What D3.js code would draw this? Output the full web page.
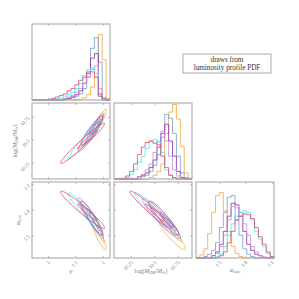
<!DOCTYPE html>
<html lang="en">
<head>
<meta charset="UTF-8" />
<title>corner</title>
<script src="https://cdn.jsdelivr.net/npm/d3@7"></script>
<style>
  body { margin: 0; background: #fff; }
  text { font-family: "Liberation Serif", "DejaVu Serif", serif; }
</style>
</head>
<body>
<div id="chart"></div>
<script>
// series colours (one per draw)
var colors = ['#f9a53a', '#6f9fd3', '#8e2c9c', '#c98ed6', '#3ff0f2', '#e3466c'];

// parameter names, ranges and ticks
var gammaDomain = [0.71, 2.13];
var logMDomain = [10.07, 10.9];
var alphaDomain = [1.233, 2.126];
var gammaTicks = [1, 1.5, 2];
var logMTicks = [10.25, 10.5, 10.75];
var alphaTicks = [1.5, 1.8, 2.1];
var gammaTickLabels = ['1', '1.5', '2'];
var logMTickLabels = ['10.25', '10.5', '10.75'];
var alphaTickLabels = ['1.5', '1.8', '2.1'];

// histogram heights (20 bins, fraction of panel height)
var histGamma = [
  [0,0,0,0,0,0,0,0,0,0,0,0,0.01,0.03,0.07,0.17,0.3,0.86,0.53,0.02],
  [0,0,0,0,0,0,0,0,0.01,0.02,0.03,0.05,0.08,0.15,0.3,0.68,0.82,0.5,0.03,0],
  [0,0,0,0,0,0,0,0,0.01,0.02,0.04,0.07,0.12,0.22,0.35,0.55,0.61,0.08,0,0],
  [0,0,0,0,0,0,0,0.01,0.02,0.04,0.06,0.1,0.15,0.22,0.3,0.4,0.45,0.15,0.02,0],
  [0,0,0,0,0,0.01,0.02,0.03,0.05,0.07,0.1,0.15,0.22,0.32,0.4,0.42,0.35,0.05,0,0],
  [0,0,0,0,0.01,0.02,0.04,0.06,0.08,0.12,0.15,0.2,0.26,0.3,0.37,0.37,0.3,0.05,0.01,0]
];
var histLogM = [
  [0,0,0,0,0,0,0,0,0,0.02,0.05,0.1,0.2,0.6,0.88,0.98,0.79,0.43,0.08,0.01],
  [0,0,0,0,0,0,0,0.03,0.05,0.1,0.18,0.32,0.55,0.85,0.8,0.6,0.3,0.08,0.02,0],
  [0,0,0,0,0,0,0.03,0.05,0.08,0.15,0.25,0.42,0.6,0.72,0.5,0.3,0.1,0.02,0,0],
  [0,0,0,0,0,0,0.03,0.06,0.12,0.2,0.35,0.5,0.63,0.5,0.3,0.12,0.04,0.01,0,0],
  [0,0,0,0.02,0.06,0.12,0.22,0.3,0.4,0.5,0.52,0.48,0.35,0.12,0.05,0.01,0,0,0,0],
  [0,0,0.01,0.04,0.1,0.2,0.32,0.42,0.48,0.5,0.47,0.45,0.3,0.15,0.05,0.02,0,0,0,0]
];
var histAlpha = [
  [0.01,0.04,0.12,0.32,0.6,0.82,0.86,0.62,0.35,0.15,0.06,0.02,0,0,0,0,0,0,0,0],
  [0,0,0.02,0.05,0.1,0.2,0.4,0.6,0.8,0.82,0.5,0.3,0.12,0.05,0.02,0,0,0,0,0],
  [0,0,0,0,0.03,0.08,0.18,0.35,0.55,0.72,0.7,0.55,0.35,0.18,0.1,0.05,0.03,0.01,0,0],
  [0,0,0,0,0,0.06,0.15,0.3,0.5,0.68,0.66,0.6,0.45,0.3,0.15,0.08,0.03,0.01,0,0],
  [0,0,0,0,0,0.02,0.05,0.15,0.3,0.45,0.55,0.6,0.62,0.6,0.5,0.35,0.25,0.15,0.06,0.02],
  [0,0,0,0,0,0,0.03,0.08,0.2,0.35,0.5,0.55,0.58,0.57,0.52,0.4,0.28,0.18,0.08,0.02]
];

// contour parameters: inner-contour centre, outer-contour centre, spread
var gammaPeak = [1.96, 1.89, 1.85, 1.82, 1.76, 1.72];
var gammaMid  = [1.93, 1.85, 1.80, 1.77, 1.67, 1.63];
var gammaSd   = [0.065, 0.08, 0.10, 0.11, 0.15, 0.20];
var logMPeak  = [10.73, 10.66, 10.63, 10.58, 10.52, 10.50];
var logMMid   = [10.69, 10.62, 10.60, 10.55, 10.49, 10.46];
var logMSd    = [0.07, 0.08, 0.08, 0.09, 0.10, 0.11];
var alphaPeak = [1.50, 1.63, 1.68, 1.70, 1.76, 1.77];
var alphaMid  = [1.50, 1.64, 1.70, 1.72, 1.78, 1.80];
var alphaSd   = [0.085, 0.09, 0.10, 0.11, 0.11, 0.11];
var corrGammaLogM  = [0.9, 0.92, 0.94, 0.94, 0.97, 0.975];
var corrGammaAlpha = [-0.9, -0.92, -0.93, -0.93, -0.96, -0.965];
var corrLogMAlpha  = [-0.92, -0.93, -0.94, -0.94, -0.96, -0.97];

var legendLines = ['draws from', 'luminosity profile PDF'];

var params = [
  { domain: gammaDomain, ticks: gammaTicks, tickLabels: gammaTickLabels, hist: histGamma, peak: gammaPeak, mid: gammaMid, sd: gammaSd },
  { domain: logMDomain, ticks: logMTicks, tickLabels: logMTickLabels, hist: histLogM, peak: logMPeak, mid: logMMid, sd: logMSd },
  { domain: alphaDomain, ticks: alphaTicks, tickLabels: alphaTickLabels, hist: histAlpha, peak: alphaPeak, mid: alphaMid, sd: alphaSd }
];
var corr = { '1,0': corrGammaLogM, '2,0': corrGammaAlpha, '2,1': corrLogMAlpha };

var width = 299, height = 299;
var colX = [32, 114, 196], rowY = [24, 103, 182];
var pw = 78, ph = 76;
var frameColor = '#aaaaaa', textColor = '#777777';

var svg = d3.select('#chart').append('svg')
  .attr('width', width).attr('height', height);

function xScale(j) { return d3.scaleLinear().domain(params[j].domain).range([colX[j], colX[j] + pw]); }
function yScale(i) { return d3.scaleLinear().domain(params[i].domain).range([rowY[i] + ph, rowY[i]]); }

function styleAxis(g) {
  g.select('.domain').remove();
  g.selectAll('line').attr('stroke', frameColor).attr('stroke-width', 0.8);
  g.selectAll('text').attr('fill', textColor).attr('font-size', 5);
}

var stepLine = d3.line();
var loopLine = d3.line().curve(d3.curveLinearClosed);

for (var i = 0; i < 3; i++) {
  for (var j = 0; j <= i; j++) {
    var x = xScale(j);
    var g = svg.append('g');

    if (i === j) {
      // histogram panel
      var y = d3.scaleLinear().domain([0, 1]).range([rowY[i] + ph, rowY[i]]);
      var dom = params[i].domain;
      var edges = d3.range(21).map(function (k) { return dom[0] + k * (dom[1] - dom[0]) / 20; });
      params[i].hist.forEach(function (h, s) {
        var pts = [[x(edges[0]), y(0)]];
        h.forEach(function (v, k) {
          pts.push([x(edges[k]), y(v)]);
          pts.push([x(edges[k + 1]), y(v)]);
        });
        pts.push([x(edges[20]), y(0)]);
        g.append('path').attr('d', stepLine(pts))
          .attr('fill', 'none').attr('stroke', colors[s])
          .attr('stroke-width', 0.9).attr('stroke-opacity', 0.9);
      });
      g.append('g').attr('transform', 'translate(0,' + rowY[i] + ')')
        .call(d3.axisTop(x).tickValues(params[j].ticks).tickSize(-2).tickFormat(''))
        .call(styleAxis);
    } else {
      var y2 = yScale(i);
      var rho = corr[i + ',' + j];
      colors.forEach(function (c, s) {
        [[params[j].mid[s], params[i].mid[s], 2], [params[j].peak[s], params[i].peak[s], 0.9]].forEach(function (lv) {
          var sx = params[j].sd[s], sy = params[i].sd[s], r = rho[s], k = lv[2];
          var pts = d3.range(90).map(function (t) {
            var a = t / 90 * 2 * Math.PI;
            return [x(lv[0] + k * sx * Math.cos(a)),
                    y2(lv[1] + k * sy * (r * Math.cos(a) + Math.sqrt(1 - r * r) * Math.sin(a)))];
          });
          g.append('path').attr('d', loopLine(pts))
            .attr('fill', 'none').attr('stroke', c)
            .attr('stroke-width', 0.9).attr('stroke-opacity', 0.9);
        });
      });
      g.append('g').attr('transform', 'translate(0,' + rowY[i] + ')')
        .call(d3.axisTop(x).tickValues(params[j].ticks).tickSize(-2).tickFormat(''))
        .call(styleAxis);
      g.append('g').attr('transform', 'translate(' + (colX[j] + pw) + ',0)')
        .call(d3.axisRight(y2).tickValues(params[i].ticks).tickSize(-2).tickFormat(''))
        .call(styleAxis);
      var left = g.append('g').attr('transform', 'translate(' + colX[j] + ',0)')
        .call(d3.axisLeft(y2).tickValues(params[i].ticks).tickSize(-2).tickPadding(3)
          .tickFormat(function (d, k) { return j === 0 ? params[i].tickLabels[k] : ''; }))
        .call(styleAxis);
      left.selectAll('text').attr('text-anchor', 'end')
        .attr('transform', function () { return 'rotate(-45,' + d3.select(this).attr('x') + ',0)'; });
    }

    var bottom = g.append('g').attr('transform', 'translate(0,' + (rowY[i] + ph) + ')')
      .call(d3.axisBottom(x).tickValues(params[j].ticks).tickSize(-2).tickPadding(3)
        .tickFormat(function (d, k) { return i === 2 ? params[j].tickLabels[k] : ''; }))
      .call(styleAxis);
    bottom.selectAll('text').attr('text-anchor', 'end').attr('dy', '0.5em')
      .attr('transform', 'rotate(-45,0,3)');

    g.append('rect').attr('x', colX[j]).attr('y', rowY[i])
      .attr('width', pw).attr('height', ph)
      .attr('fill', 'none').attr('stroke', frameColor).attr('stroke-width', 1.1);
  }
}

// axis labels
function mdmLabel(t) {
  t.append('tspan').text('log(');
  t.append('tspan').attr('font-style', 'italic').text('M');
  t.append('tspan').attr('font-size', 4).attr('dy', 1.2).attr('font-style', 'italic').text('DM');
  t.append('tspan').attr('dy', -1.2).text('/');
  t.append('tspan').attr('font-style', 'italic').text('M');
  t.append('tspan').attr('font-size', 4).attr('dy', 1.2).text('⊙');
  t.append('tspan').attr('dy', -1.2).text(')');
}
function alphaLabel(t) {
  t.append('tspan').attr('font-style', 'italic').text('α');
  t.append('tspan').attr('font-size', 4).attr('dy', 1.2).attr('font-style', 'italic').text('halo');
}

svg.append('text').attr('x', colX[0] + pw / 2).attr('y', 273)
  .attr('text-anchor', 'middle').attr('font-size', 7).attr('font-style', 'italic')
  .attr('fill', textColor).text('γ');
mdmLabel(svg.append('text').attr('x', colX[1] + pw / 2 - 2).attr('y', 273)
  .attr('text-anchor', 'middle').attr('font-size', 6).attr('fill', textColor));
alphaLabel(svg.append('text').attr('x', colX[2] + pw / 2).attr('y', 272)
  .attr('text-anchor', 'middle').attr('font-size', 6).attr('fill', textColor));

mdmLabel(svg.append('text').attr('transform', 'translate(17,' + (rowY[1] + ph / 2) + ') rotate(-90)')
  .attr('text-anchor', 'middle').attr('font-size', 6).attr('fill', textColor));
alphaLabel(svg.append('text').attr('transform', 'translate(20,' + (rowY[2] + ph / 2) + ') rotate(-90)')
  .attr('text-anchor', 'middle').attr('font-size', 6).attr('fill', textColor));

// legend box
var lg = svg.append('g');
lg.append('rect').attr('x', 183).attr('y', 54).attr('width', 88).attr('height', 19)
  .attr('fill', '#fff').attr('stroke', '#999').attr('stroke-width', 0.8);
legendLines.forEach(function (s, k) {
  lg.append('text').attr('x', 227).attr('y', 62 + k * 8)
    .attr('text-anchor', 'middle').attr('font-size', 7.2).attr('fill', '#333').text(s);
});
</script>
</body>
</html>
